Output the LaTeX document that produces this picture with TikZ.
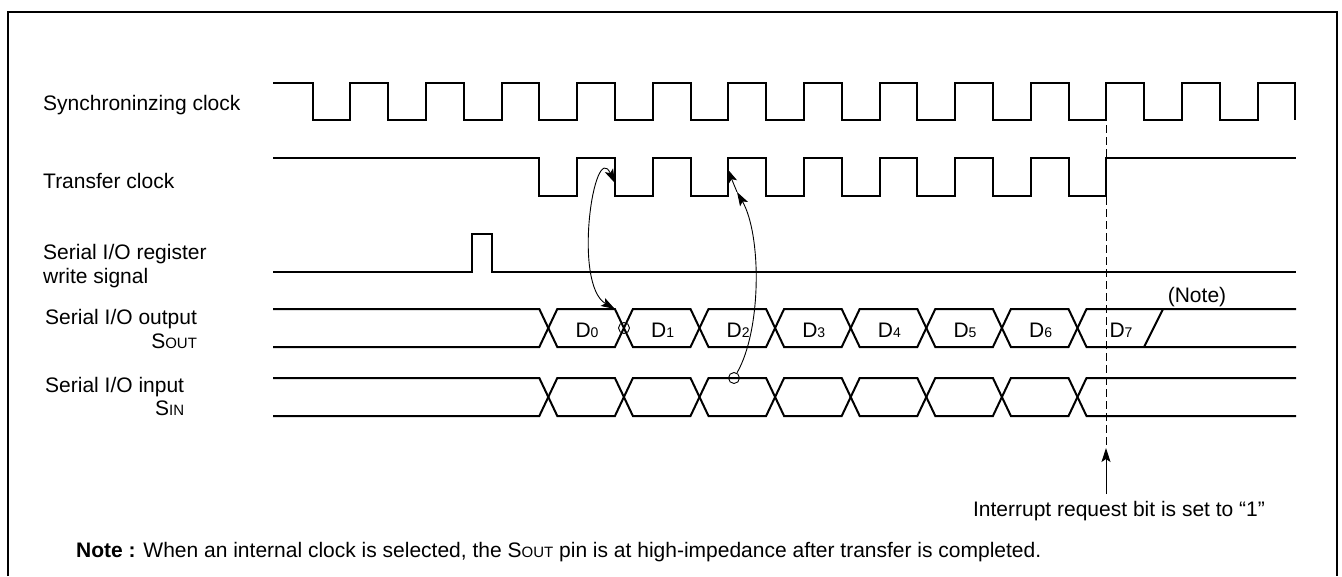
\documentclass[tikz,border=0pt]{standalone}
\usepackage{fontspec}
\setmainfont{Liberation Sans}
\usetikzlibrary{arrows.meta}
\newcommand{\pinname}[1]{{\fontsize{15}{15}\selectfont #1}}
\newcommand{\dbit}[1]{D{\fontsize{14}{14}\selectfont #1}}

\begin{document}
\begin{tikzpicture}[x=1pt,y=-1pt,
    sig/.style={line width=2pt, line join=miter},
    link/.style={line width=0.9pt},
    lbl/.style={inner sep=0pt, font=\fontsize{21}{24}\selectfont},
    ring/.style={circle, draw, line width=0.9pt, inner sep=0pt, minimum size=11pt},
    tipe/.style={-{Stealth[length=14pt,width=9pt,inset=3pt]}}]
  \useasboundingbox (0,0) rectangle (1342,576);
  % frame, bottom edge runs off the page
  \draw[line width=2pt] (8,576) -- (8,12) -- (1337,12) -- (1337,576);

  % signal names
  \node[lbl, anchor=base west] (synclbl) at (43,110) {Synchroninzing clock};
  \node[lbl, anchor=base west] (xferlbl) at (43,188) {Transfer clock};
  \node[lbl, anchor=base west] (reglbl) at (43,259) {Serial I/O register};
  \node[lbl, anchor=base west] (wrlbl) at (43,283) {write signal};
  \node[lbl, anchor=base west] (outlbl) at (45,324) {Serial I/O output};
  \node[lbl, anchor=base east] (soutlbl) at ([yshift=-24pt]outlbl.base east) {S\pinname{OUT}};
  \node[lbl, anchor=base west] (inlbl) at (45,392) {Serial I/O input};
  \node[lbl, anchor=base east] (sinlbl) at ([yshift=-23pt]inlbl.base east) {S\pinname{IN}};

  % synchronizing clock
  \draw[sig] (273,83) foreach \k in {0,...,12} {
      -- ({312.5+75.6*\k},83) -- ({312.5+75.6*\k},120)
      -- ({350.3+75.6*\k},120) -- ({350.3+75.6*\k},83)}
    -- (1295.3,83) -- (1295.3,120);
  % transfer clock
  \draw[sig] (273,158) foreach \k in {3,...,10} {
      -- ({312.5+75.6*\k},158) -- ({312.5+75.6*\k},196)
      -- ({350.3+75.6*\k},196) -- ({350.3+75.6*\k},158)}
    -- (1296,158);
  % write signal
  \draw[sig] (273,272) -- (472,272) -- (472,234) -- (492,234) -- (492,272) -- (1296,272);
  % data lines (SOUT and SIN)
  \foreach \ya/\yb in {309/347, 347/309, 378/416, 416/378}
    \draw[sig] (273,\ya) foreach \k in {3,5,7,9} {
        -- ({312.5+75.6*\k},\ya) -- ({330.5+75.6*\k},\yb)
        -- ({388.1+75.6*\k},\yb) -- ({406.1+75.6*\k},\ya)}
      -- (1296,\ya);
  \draw[sig] (1144,347) -- (1163,309);

  % bit names
  \foreach \i in {0,...,6}
    \node[lbl, anchor=base] (d\i) at ({587+75.6*\i},337) {\dbit{\i}};
  \node[lbl, anchor=base] (d7) at (1121,337) {\dbit{7}};
  \node[lbl, anchor=base] (notemark) at (1197,302) {(Note)};

  % timing references
  \node[ring] (c1) at (624,328) {};
  \node[ring] (c2) at (734,378) {};
  \coordinate (fall4) at (614.9,183);
  \coordinate (d0end) at (614.9,309);
  \coordinate (mid2) at (737,192);
  \coordinate (rise5) at (727.5,169);
  \draw[link, {Stealth[length=14pt,width=9pt,inset=3pt]}-{Stealth[length=14pt,width=9pt,inset=3pt]}]
    (fall4) to[out=115,in=150] (d0end);
  \draw[link, tipe] (c2) to[out=60,in=-60,looseness=0.7] (mid2);
  \draw[link, tipe] (mid2) -- (rise5);

  % interrupt request
  \coordinate (irqtop) at (1106,125);
  \coordinate (irqtip) at (1106,448);
  \coordinate (irqtail) at (1106,494);
  \draw[link, dash pattern=on 8pt off 4pt] (irqtop) -- (irqtip);
  \draw[link, tipe] (irqtail) -- (irqtip);
  \node[lbl, anchor=base] (irqlbl) at (1119,516) {Interrupt request bit is set to “1”};

  % note
  \node[lbl, anchor=base west] (note) at (76,557)
    {\textbf{Note :} When an internal clock is selected, the S\pinname{OUT} pin is at high-impedance after transfer is completed.};
\end{tikzpicture}
\end{document}
